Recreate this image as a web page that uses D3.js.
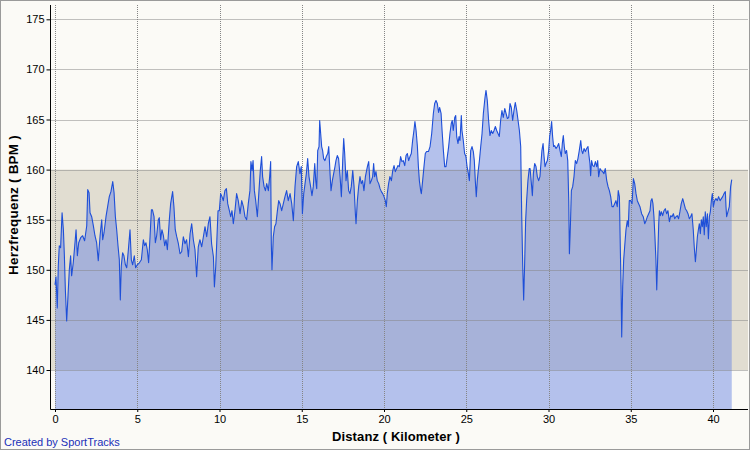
<!DOCTYPE html>
<html>
<head>
<meta charset="utf-8">
<script src="https://cdn.jsdelivr.net/npm/d3@7"></script>
<style>
  html, body { margin: 0; padding: 0; background: #FBFAF6; }
  svg { display: block; }
  text { font-family: "Liberation Sans", Arial, sans-serif; }
</style>
</head>
<body>
<svg id="chart" width="750" height="450"></svg>
<script>
// ---------- data ----------
const xTicks = [0, 5, 10, 15, 20, 25, 30, 35, 40];
const yTicks = [140, 145, 150, 155, 160, 165, 170, 175];
const zoneRange = [140, 160];
const xTitle = "Distanz ( Kilometer )";
const yTitle = "Herzfrequenz ( BPM )";
const creditText = "Created by SportTracks";

const distanceKm = [
0,0.06,0.14,0.20,0.26,0.34,0.43,0.51,0.57,0.63,0.71,0.79,0.87,0.95,1.01,1.11,1.20,1.28,1.36,1.44,1.56,1.68,1.80,1.93,1.99,2.07,2.13,2.23,2.33,2.43,2.53,2.63,2.74,2.84,2.90,2.98,3.10,3.20,3.30,3.40,3.51,3.59,3.67,3.75,3.83,3.91,3.97,4.03,4.11,4.19,4.28,4.36,4.46,4.56,4.64,4.72,4.82,4.90,5.00,5.13,5.25,5.37,5.45,5.53,5.61,5.69,5.78,5.86,5.92,6.02,6.10,6.18,6.28,6.34,6.42,6.50,6.59,6.67,6.75,6.83,6.95,7.03,
7.15,7.23,7.31,7.40,7.50,7.60,7.70,7.80,7.90,8.00,8.11,8.21,8.31,8.41,8.51,8.61,8.71,8.81,8.92,9.02,9.12,9.22,9.32,9.42,9.52,9.63,9.69,9.77,9.83,9.91,9.99,10.07,10.15,10.23,10.33,10.42,10.50,10.60,10.68,10.76,10.84,10.94,11.04,11.14,11.25,11.35,11.45,11.55,11.65,11.75,11.85,11.91,11.98,12.04,12.12,12.20,12.30,12.40,12.48,12.56,12.62,12.71,12.79,12.87,12.97,13.05,13.11,13.15,13.19,13.27,13.35,13.43,13.52,13.60,13.68,13.78,13.88,13.98,14.08,14.18,14.29,
14.39,14.49,14.59,14.69,14.79,14.89,14.97,15.04,15.12,15.20,15.28,15.36,15.44,15.54,15.62,15.70,15.79,15.85,15.91,15.97,16.05,16.09,16.15,16.21,16.27,16.33,16.41,16.49,16.58,16.64,16.72,16.78,16.86,16.94,17.02,17.08,17.16,17.24,17.33,17.41,17.49,17.55,17.61,17.69,17.77,17.85,17.93,18.01,18.10,18.18,18.26,18.30,18.38,18.46,18.54,18.62,18.70,18.78,18.87,18.99,19.07,19.15,19.23,19.31,19.37,19.43,19.51,19.59,19.68,19.76,19.84,19.92,20.00,20.08,20.14,20.20,20.28,20.36,20.45,20.53,20.61,20.69,20.77,20.85,20.93,21.01,21.09,21.17,21.26,21.34,21.42,21.50,21.58,
21.66,21.74,21.82,21.88,21.95,22.03,22.09,22.15,22.23,22.27,22.35,22.43,22.51,22.59,22.70,22.80,22.90,23.00,23.08,23.16,23.24,23.32,23.38,23.47,23.53,23.61,23.69,23.77,23.85,23.93,24.01,24.09,24.15,24.21,24.30,24.36,24.42,24.50,24.56,24.62,24.70,24.74,24.82,24.90,24.98,25.05,25.13,25.19,25.27,25.35,25.43,25.49,25.55,25.61,25.67,25.73,25.80,25.88,25.96,26.04,26.14,26.20,26.28,26.36,26.44,26.52,26.61,26.69,26.77,26.85,26.93,27.01,27.09,27.17,27.25,27.34,27.42,27.50,27.58,27.66,27.74,27.82,27.90,27.98,28.07,28.15,28.23,28.31,28.37,28.43,28.49,28.55,28.61,28.67,28.75,28.83,
28.88,28.96,29.02,29.08,29.16,29.24,29.32,29.40,29.48,29.54,29.60,29.67,29.73,29.79,29.85,29.93,30.01,30.07,30.13,30.19,30.25,30.31,30.37,30.46,30.54,30.62,30.70,30.78,30.84,30.90,30.96,31.02,31.10,31.17,31.23,31.27,31.33,31.39,31.47,31.55,31.63,31.71,31.79,31.87,31.96,32.02,32.08,32.16,32.24,32.32,32.40,32.46,32.52,32.56,32.62,32.69,32.77,32.85,32.93,32.99,33.05,33.13,33.21,33.29,33.37,33.45,33.54,33.62,33.70,33.78,33.86,33.94,34.02,34.10,34.18,34.24,34.31,34.35,34.41,34.45,34.51,34.57,34.63,34.71,34.79,34.85,34.91,35.00,35.08,35.16,35.24,35.32,35.40,35.48,35.56,35.66,35.76,35.85,35.93,36.01,36.09,36.17,
36.23,36.29,36.35,36.41,36.47,36.53,36.58,36.64,36.70,36.74,36.80,36.86,36.94,37.02,37.10,37.18,37.26,37.35,37.43,37.51,37.59,37.67,37.75,37.83,37.91,37.99,38.07,38.16,38.24,38.32,38.40,38.48,38.56,38.64,38.72,38.80,38.86,38.93,38.99,39.05,39.11,39.17,39.23,39.29,39.35,39.41,39.47,39.53,39.59,39.66,39.72,39.78,39.84,39.90,39.96,40.02,40.10,40.18,40.26,40.34,40.43,40.51,40.59,40.67,40.75,40.79,40.83,40.91,40.99,41.07,41.14
];

const heartRate = [
148.5,149.3,146.2,150.4,152.4,152.2,155.7,154.0,151.4,148.0,144.9,147.4,150.0,151.4,149.4,150.7,152.4,154.0,151.4,152.7,153.2,153.4,152.9,154.4,158.0,157.7,155.7,155.3,154.4,153.4,152.7,150.9,153.4,155.0,153.0,153.7,155.3,156.3,157.3,157.8,158.8,157.7,155.3,154.0,152.4,151.0,147.0,150.4,151.7,151.4,150.5,150.2,152.0,154.0,151.0,150.5,151.4,150.2,150.5,150.7,151.0,153.0,152.4,152.7,152.0,150.7,153.4,156.0,156.0,155.3,152.7,153.4,155.0,155.2,153.0,154.0,153.4,152.4,153.0,152.0,155.0,156.6,
157.8,156.3,154.0,153.3,152.6,151.6,151.8,153.3,152.6,153.0,151.3,153.6,154.6,153.0,152.0,149.3,152.3,153.0,152.3,153.3,154.3,153.3,154.6,155.3,152.6,151.3,148.3,150.3,152.6,155.9,155.9,157.6,157.3,156.9,157.9,158.1,156.6,155.9,155.3,155.9,154.6,155.9,157.6,156.9,155.6,156.9,156.3,155.3,155.0,156.6,157.9,160.8,159.9,160.9,157.9,156.9,155.3,157.9,159.9,161.3,159.3,158.3,157.9,158.6,157.9,159.3,160.8,152.6,150.0,153.3,154.3,154.6,155.9,156.9,156.6,155.9,156.6,157.3,157.9,156.9,157.6,
156.6,154.9,158.3,160.3,160.8,159.6,160.3,155.6,157.6,158.6,159.6,161.1,159.3,158.3,157.4,158.3,160.6,158.9,158.1,161.9,162.3,164.9,163.6,162.3,161.9,161.1,160.9,161.3,161.6,162.3,159.6,157.9,158.9,159.6,160.3,160.9,161.4,161.1,159.3,157.3,160.9,163.1,161.6,158.9,159.9,157.9,157.6,158.3,159.9,158.3,155.6,154.6,156.9,158.3,159.3,158.6,158.9,157.9,159.3,160.3,160.8,158.6,158.9,159.3,160.6,159.3,159.8,158.9,158.6,158.1,157.8,157.6,157.3,156.9,156.3,157.6,158.6,159.3,158.9,159.9,160.4,159.8,160.1,160.4,160.3,161.3,160.8,160.9,160.4,161.4,161.6,160.9,161.3,
161.6,162.9,163.9,164.8,163.9,162.3,160.3,158.9,157.9,157.6,158.9,160.3,161.6,161.8,161.8,162.3,163.6,165.6,166.6,166.9,166.6,165.7,166.2,165.6,163.9,161.9,160.3,160.3,161.3,162.3,163.6,164.6,164.9,163.9,165.2,165.4,163.3,162.6,163.3,162.9,165.4,163.9,162.9,161.6,161.3,160.3,159.6,158.9,161.9,162.3,161.8,160.9,158.9,157.3,158.9,159.9,160.9,162.3,163.6,165.6,167.2,167.9,166.9,164.9,163.4,163.9,163.6,163.9,164.3,163.9,163.6,163.3,164.9,165.9,165.2,166.1,165.6,165.1,165.2,166.6,166.2,164.9,165.9,166.7,165.9,164.9,163.9,162.3,155.6,150.6,147.0,150.6,154.9,156.9,158.9,160.1,
160.1,158.6,157.4,159.6,160.6,160.3,159.3,158.9,159.3,160.6,161.9,162.6,161.3,160.3,160.6,160.9,161.9,163.3,163.9,164.8,163.3,162.3,162.4,162.1,162.3,162.6,161.9,161.3,162.6,163.4,162.3,161.6,161.9,160.9,156.9,151.6,154.3,157.9,158.3,159.3,160.9,160.6,161.1,161.9,162.9,161.9,161.6,162.1,161.8,162.1,162.3,161.4,160.6,159.4,160.9,160.4,160.3,160.8,160.3,160.9,159.3,160.1,159.9,159.8,159.6,160.1,158.9,158.3,157.9,157.3,156.3,156.3,156.6,156.9,156.3,157.9,157.3,153.6,148.3,143.3,148.3,151.0,152.3,154.0,154.9,154.3,156.9,156.9,156.6,159.1,158.6,157.6,156.9,156.6,156.3,155.6,155.3,154.6,154.9,155.3,155.6,155.9,
156.9,157.1,156.6,155.3,153.3,151.0,148.0,151.3,154.6,155.9,155.4,155.8,155.4,155.9,156.1,155.6,155.9,154.8,155.4,155.3,155.6,155.1,155.3,155.4,155.1,155.8,156.6,157.1,156.6,156.1,155.9,155.6,155.1,155.3,155.6,154.0,152.3,150.8,152.0,153.3,154.0,154.6,153.6,155.0,154.3,155.3,153.5,155.8,154.3,155.6,153.1,155.3,155.8,156.9,157.6,156.3,156.9,157.1,156.9,157.3,156.9,157.1,157.3,157.6,157.8,156.3,155.3,155.8,156.3,158.3,159.0
];

// ---------- layout ----------
const W = 750, H = 450;
const plotLeft = 50.5, plotRight = 748, plotTop = 5, plotBottom = 409;

const svg = d3.select("#chart");

const x = d3.scaleLinear().domain([0, 40]).range([55, 713]);
const y = d3.scaleLinear().domain([140, 175]).range([370, 19.3]);

const data = distanceKm.map((d, i) => ({ km: d, hr: heartRate[i] }));

// background + border
svg.append("rect").attr("x", 0).attr("y", 0).attr("width", W).attr("height", H).attr("fill", "#FBFAF6");
svg.append("rect").attr("x", 0.5).attr("y", 0.5).attr("width", W - 1).attr("height", H - 1)
  .attr("fill", "none").attr("stroke", "#9a9a9a");

// zone band
svg.append("rect")
  .attr("x", plotLeft).attr("width", plotRight - plotLeft)
  .attr("y", y(zoneRange[1])).attr("height", y(zoneRange[0]) - y(zoneRange[1]))
  .attr("fill", "#E1DDD1");

// area
const area = d3.area().x(d => x(d.km)).y0(plotBottom).y1(d => y(d.hr));
svg.append("path").datum(data).attr("d", area)
  .attr("fill", "rgb(110,135,225)").attr("fill-opacity", 0.5);

// grid
const grid = svg.append("g").attr("stroke", "#858585").attr("stroke-width", 1).attr("stroke-dasharray", "1,1");
yTicks.forEach(t => {
  const yy = Math.round(y(t)) + 0.5;
  grid.append("line").attr("x1", plotLeft + 1).attr("x2", plotRight).attr("y1", yy).attr("y2", yy);
});
xTicks.forEach(t => {
  const xx = Math.round(x(t)) + 0.5;
  grid.append("line").attr("x1", xx).attr("x2", xx).attr("y1", plotTop).attr("y2", plotBottom);
});

// line
const line = d3.line().x(d => x(d.km)).y(d => y(d.hr));
svg.append("path").datum(data).attr("d", line)
  .attr("fill", "none").attr("stroke", "#1E4FD8").attr("stroke-width", 1.1).attr("stroke-linejoin", "round");

// axes
const yAxis = d3.axisLeft(y).tickValues(yTicks).tickSize(4).tickPadding(2).tickFormat(d3.format("d"));
const gy = svg.append("g").attr("transform", `translate(${plotLeft},0)`).call(yAxis);
gy.select(".domain").remove();
gy.selectAll("text").attr("font-size", 11).attr("fill", "#000").style("font-family", '"Liberation Sans", Arial, sans-serif');
gy.selectAll("line").attr("stroke", "#000");

const xAxis = d3.axisBottom(x).tickValues(xTicks).tickSize(3).tickPadding(3).tickFormat(d3.format("d"));
const gx = svg.append("g").attr("transform", `translate(0,${plotBottom})`).call(xAxis);
gx.select(".domain").remove();
gx.selectAll("text").attr("font-size", 11).attr("fill", "#000").style("font-family", '"Liberation Sans", Arial, sans-serif');
gx.selectAll("line").attr("stroke", "#000");

svg.append("line").attr("x1", plotLeft).attr("x2", plotLeft).attr("y1", plotTop).attr("y2", plotBottom + 0.5)
  .attr("stroke", "#000").attr("stroke-width", 1);
svg.append("line").attr("x1", plotLeft).attr("x2", plotRight).attr("y1", plotBottom + 0.5).attr("y2", plotBottom + 0.5)
  .attr("stroke", "#000").attr("stroke-width", 1);

// titles
svg.append("text").attr("x", 396).attr("y", 441).attr("text-anchor", "middle")
  .attr("font-size", 13).attr("font-weight", "bold").attr("letter-spacing", 0.1).attr("fill", "#000").text(xTitle);
svg.append("text").attr("transform", "translate(18,205) rotate(-90)").attr("text-anchor", "middle")
  .attr("font-size", 13.5).attr("font-weight", "bold").attr("letter-spacing", 0.2).attr("fill", "#000").text(yTitle);
svg.append("text").attr("x", 4).attr("y", 446).attr("font-size", 11).attr("fill", "#2030B8").text(creditText);
</script>
</body>
</html>
